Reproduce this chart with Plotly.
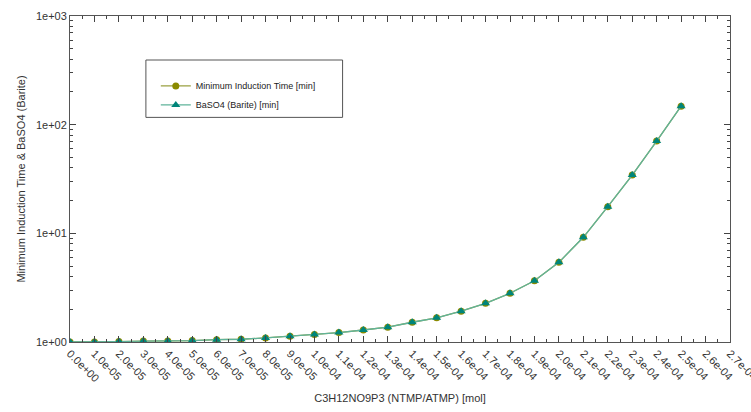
import plotly.graph_objects as go

# NTMP/ATMP concentration [mol]
conc = [0.0, 1e-5, 2e-5, 3e-5, 4e-5, 5e-5, 6e-5, 7e-5, 8e-5, 9e-5,
        1.0e-4, 1.1e-4, 1.2e-4, 1.3e-4, 1.4e-4, 1.5e-4, 1.6e-4, 1.7e-4,
        1.8e-4, 1.9e-4, 2.0e-4, 2.1e-4, 2.2e-4, 2.3e-4, 2.4e-4, 2.5e-4]

# induction times [min]
min_induction = [1.00, 1.00, 1.01, 1.02, 1.02, 1.03, 1.05, 1.06, 1.09, 1.13,
                 1.17, 1.22, 1.29, 1.37, 1.52, 1.67, 1.92, 2.27,
                 2.81, 3.66, 5.41, 9.19, 17.6, 34.4, 70.7, 148.0]
barite = [1.00, 1.00, 1.01, 1.02, 1.02, 1.03, 1.05, 1.06, 1.09, 1.13,
          1.17, 1.22, 1.29, 1.37, 1.52, 1.67, 1.92, 2.27,
          2.81, 3.66, 5.41, 9.19, 17.6, 34.4, 70.7, 148.0]

x_tickvals = [0.0, 1e-5, 2e-5, 3e-5, 4e-5, 5e-5, 6e-5, 7e-5, 8e-5, 9e-5,
              1.0e-4, 1.1e-4, 1.2e-4, 1.3e-4, 1.4e-4, 1.5e-4, 1.6e-4, 1.7e-4,
              1.8e-4, 1.9e-4, 2.0e-4, 2.1e-4, 2.2e-4, 2.3e-4, 2.4e-4, 2.5e-4,
              2.6e-4, 2.7e-4]
x_ticktext = ["0.0e+00", "1.0e-05", "2.0e-05", "3.0e-05", "4.0e-05", "5.0e-05",
              "6.0e-05", "7.0e-05", "8.0e-05", "9.0e-05", "1.0e-04", "1.1e-04",
              "1.2e-04", "1.3e-04", "1.4e-04", "1.5e-04", "1.6e-04", "1.7e-04",
              "1.8e-04", "1.9e-04", "2.0e-04", "2.1e-04", "2.2e-04", "2.3e-04",
              "2.4e-04", "2.5e-04", "2.6e-04", "2.7e-04"]
y_tickvals = [1, 10, 100, 1000]
y_ticktext = ["1e+00", "1e+01", "1e+02", "1e+03"]

OLIVE = "#8a8a00"
TEAL = "#00857a"
FONT = "Liberation Sans, Arial, sans-serif"

fig = go.Figure()
fig.add_trace(go.Scatter(
    x=conc, y=min_induction, mode="lines+markers",
    name="Minimum Induction Time [min]",
    line=dict(color="#9aa040", width=1.3),
    marker=dict(symbol="circle", size=7, color=OLIVE),
))
fig.add_trace(go.Scatter(
    x=conc, y=barite, mode="lines+markers",
    name="BaSO4 (Barite) [min]",
    line=dict(color="#5fb39a", width=1.3),
    marker=dict(symbol="triangle-up", size=8, color=TEAL),
))

axis_common = dict(
    showline=True, linecolor="#555555", linewidth=1, mirror="ticks",
    ticks="inside", ticklen=6, tickcolor="#444444", tickwidth=1,
    showgrid=False, zeroline=False, automargin=False,
    ticklabeloverflow="allow",
    tickfont=dict(family=FONT, size=11, color="#333333"),
)

fig.update_xaxes(
    range=[0, 2.70001e-4], tickmode="array", tickvals=x_tickvals, ticktext=x_ticktext,
    tickangle=45,
    minor=dict(ticks="inside", ticklen=3, tickcolor="#444444", dtick=5e-6, showgrid=False),
    title=dict(text="C3H12NO9P3 (NTMP/ATMP) [mol]", standoff=10,
               font=dict(family=FONT, size=11, color="#333333")),
    **axis_common,
)
fig.update_yaxes(
    type="log", range=[0, 3], tickmode="array", tickvals=y_tickvals, ticktext=y_ticktext,
    minor=dict(ticks="inside", ticklen=3, tickcolor="#444444",
               tickvals=[m * 10 ** d for d in range(3) for m in range(2, 10)], showgrid=False),
    title=dict(text="Minimum Induction Time & BaSO4 (Barite)", standoff=8,
               font=dict(family=FONT, size=11, color="#333333")),
    **axis_common,
)

# legend frame
fig.add_shape(type="rect", xref="paper", yref="paper",
              x0=0.115, x1=0.413, y0=0.689, y1=0.865,
              line=dict(color="#555555", width=1), fillcolor="white", layer="below")

fig.update_layout(
    width=751, height=412,
    margin=dict(l=70, r=21, t=16, b=70),
    paper_bgcolor="white", plot_bgcolor="white",
    font=dict(family=FONT, size=11, color="#333333"),
    legend=dict(x=0.13, y=0.83, xanchor="left", yanchor="top",
                bgcolor="rgba(0,0,0,0)", borderwidth=0,
                font=dict(family=FONT, size=9, color="#222222"),
                itemwidth=30, tracegroupgap=0),
    showlegend=True,
)

fig.write_html("out.html")
